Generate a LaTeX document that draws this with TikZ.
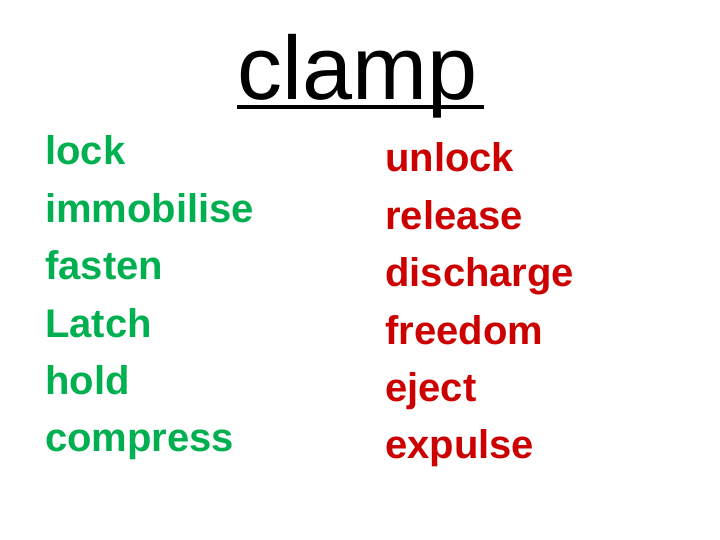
\documentclass[tikz,border=0pt]{standalone}
\usepackage{fontspec}
\setmainfont{Liberation Sans}
\definecolor{grn}{RGB}{0,176,80}
\definecolor{rd}{RGB}{204,0,0}
\begin{document}
\begin{tikzpicture}[x=1pt,y=1pt,
  w/.style={anchor=base west,inner sep=0pt,font=\fontsize{40}{40}\selectfont\bfseries}]
\useasboundingbox (0,0) rectangle (720,540);
\node[anchor=base west,inner sep=0pt,font=\fontsize{90}{90}\selectfont] (t) at (237,440) {clamp};
\draw[line width=4pt] (237,433) -- (484,433);
\foreach \s [count=\i] in {lock,immobilise,fasten,Latch,hold,compress}
  \node[w,text=grn] (l\i) at (45,540-165-57.4*\i+57.4) {\s};
\foreach \s [count=\i] in {unlock,release,discharge,freedom,eject,expulse}
  \node[w,text=rd] (r\i) at (385,540-172-57.4*\i+57.4) {\s};
\end{tikzpicture}
\end{document}
